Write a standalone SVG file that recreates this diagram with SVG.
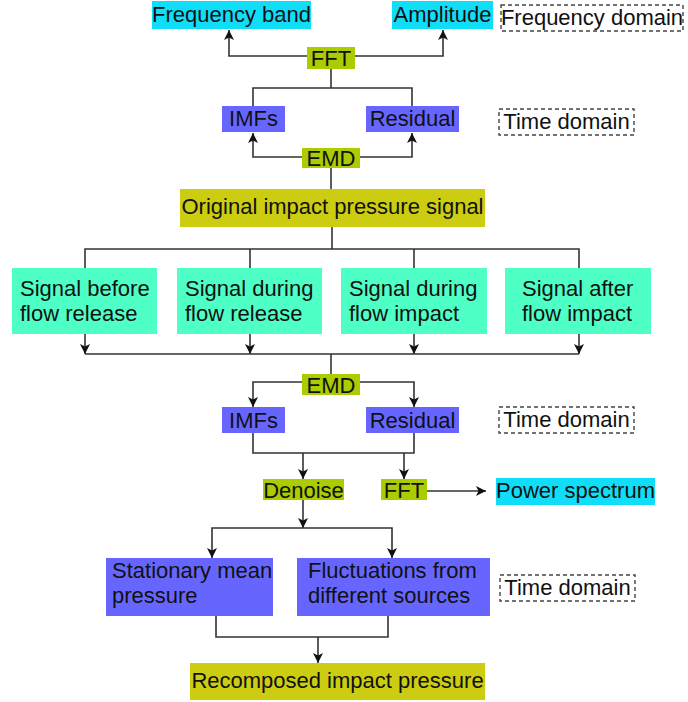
<svg xmlns="http://www.w3.org/2000/svg" width="688" height="702" viewBox="0 0 688 702">
<style>
text{font-family:"Liberation Sans",Arial,sans-serif;font-size:22px;fill:#111}
.c{text-anchor:middle}
.cy{fill:#10def8}
.mint{fill:#4effc6}
.bl{fill:#6666ff}
.yg{fill:#aacc00}
.ol{fill:#cccc11}
.dash{fill:none;stroke:#444;stroke-width:1.4;stroke-dasharray:4 3}
.ln{fill:none;stroke:#333;stroke-width:1.6}
.ar{fill:none;stroke:#333;stroke-width:1.6;marker-end:url(#ah)}
</style>
<defs>
<marker id="ah" viewBox="0 0 10 10" refX="10" refY="5" markerWidth="11" markerHeight="10" markerUnits="userSpaceOnUse" orient="auto">
<path d="M0,0 L10,5 L0,10 L2.5,5 z" fill="#111"/>
</marker>
</defs>
<g id="connectors">
<path class="ar" d="M307,56 H229 V30"/>
<path class="ar" d="M355,56 H443 V30"/>
<path class="ln" d="M331,69 V88"/>
<path class="ln" d="M253,106 V88 H412 V106"/>
<path class="ar" d="M302,157 H253 V133"/>
<path class="ar" d="M360,157 H412 V133"/>
<path class="ln" d="M331,168 V189"/>
<path class="ln" d="M332,227 V249"/>
<path class="ln" d="M85,268 V249 H579 V268"/>
<path class="ln" d="M250,249 V268"/>
<path class="ln" d="M414,249 V268"/>
<path class="ar" d="M85,334 V354"/>
<path class="ar" d="M250,334 V354"/>
<path class="ar" d="M414,334 V354"/>
<path class="ar" d="M579,334 V354"/>
<path class="ln" d="M85,354 H579"/>
<path class="ln" d="M331,354 V374"/>
<path class="ar" d="M302,382 H253 V407"/>
<path class="ar" d="M360,382 H414 V407"/>
<path class="ln" d="M253,433 V453 H414 V433"/>
<path class="ar" d="M303,453 V479"/>
<path class="ar" d="M404,453 V479"/>
<path class="ar" d="M427,491 H486"/>
<path class="ar" d="M303,500 V528"/>
<path class="ar" d="M303,528 H212 V558"/>
<path class="ar" d="M303,528 H392 V558"/>
<path class="ln" d="M216,616 V637 H388 V616"/>
<path class="ar" d="M318,637 V663"/>
</g>
<g id="freq-band"><rect class="cy" x="152" y="1" width="159" height="28"/><text class="c" x="231.5" y="22">Frequency band</text></g>
<g id="amplitude"><rect class="cy" x="392" y="1" width="101" height="28"/><text class="c" x="442.5" y="22">Amplitude</text></g>
<g id="freq-domain"><rect class="dash" x="501" y="5" width="182" height="26"/><text class="c" x="592" y="25">Frequency domain</text></g>
<g id="fft1"><rect class="yg" x="307" y="47" width="48" height="22"/><text class="c" x="331" y="66">FFT</text></g>
<g id="imfs1"><rect class="bl" x="222" y="106" width="63" height="26"/><text class="c" x="253.5" y="126">IMFs</text></g>
<g id="residual1"><rect class="bl" x="366" y="106" width="93" height="26"/><text class="c" x="412.5" y="126">Residual</text></g>
<g id="time-domain1"><rect class="dash" x="499" y="109" width="135" height="26"/><text class="c" x="566.5" y="129">Time domain</text></g>
<g id="emd1"><rect class="yg" x="302" y="148" width="58" height="20"/><text class="c" x="331" y="166">EMD</text></g>
<g id="original"><rect class="ol" x="180" y="189" width="305" height="38"/><text class="c" x="332.5" y="214">Original impact pressure signal</text></g>
<g id="sig-before"><rect class="mint" x="12" y="268" width="145" height="66"/><text x="20" y="296">Signal before</text><text x="20" y="321">flow release</text></g>
<g id="sig-during-release"><rect class="mint" x="177" y="268" width="145" height="66"/><text x="185" y="296">Signal during</text><text x="185" y="321">flow release</text></g>
<g id="sig-during-impact"><rect class="mint" x="341" y="268" width="146" height="66"/><text x="349" y="296">Signal during</text><text x="349" y="321">flow impact</text></g>
<g id="sig-after"><rect class="mint" x="505" y="268" width="146" height="66"/><text x="522" y="296">Signal after</text><text x="522" y="321">flow impact</text></g>
<g id="emd2"><rect class="yg" x="302" y="374" width="58" height="21"/><text class="c" x="331" y="393">EMD</text></g>
<g id="imfs2"><rect class="bl" x="222" y="407" width="63" height="26"/><text class="c" x="253.5" y="428">IMFs</text></g>
<g id="residual2"><rect class="bl" x="366" y="407" width="93" height="26"/><text class="c" x="412.5" y="428">Residual</text></g>
<g id="time-domain2"><rect class="dash" x="499" y="407" width="135" height="26"/><text class="c" x="566.5" y="427">Time domain</text></g>
<g id="denoise"><rect class="yg" x="263" y="479" width="81" height="21"/><text class="c" x="303.5" y="498">Denoise</text></g>
<g id="fft2"><rect class="yg" x="381" y="479" width="46" height="21"/><text class="c" x="404" y="498">FFT</text></g>
<g id="power"><rect class="cy" x="496" y="478" width="159" height="27"/><text class="c" x="575.5" y="498">Power spectrum</text></g>
<g id="stationary"><rect class="bl" x="106" y="558" width="167" height="58"/><text x="112" y="578">Stationary mean</text><text x="112" y="603">pressure</text></g>
<g id="fluct"><rect class="bl" x="297" y="558" width="193" height="58"/><text x="308" y="578">Fluctuations from</text><text x="308" y="603">different sources</text></g>
<g id="time-domain3"><rect class="dash" x="500" y="575" width="135" height="26"/><text class="c" x="567.5" y="595">Time domain</text></g>
<g id="recomposed"><rect class="ol" x="190" y="663" width="295" height="37"/><text class="c" x="337.5" y="688">Recomposed impact pressure</text></g>
</svg>
